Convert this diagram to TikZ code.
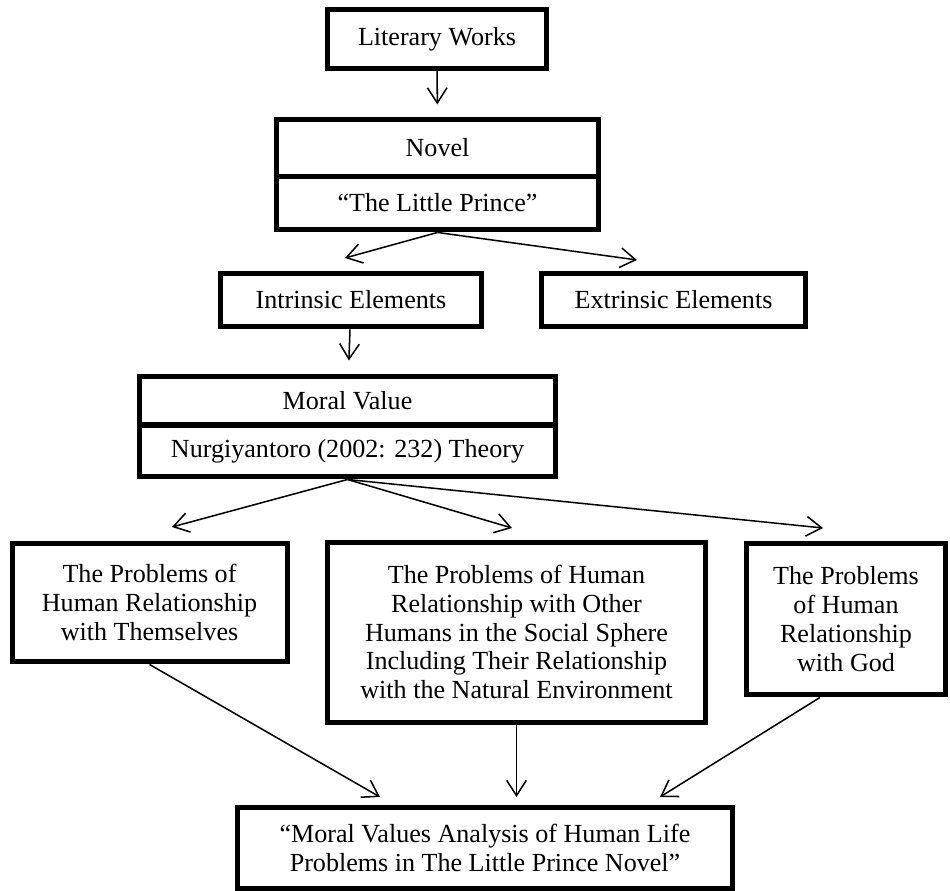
\documentclass[tikz,border=0pt]{standalone}
\usepackage{fontspec}
\setmainfont{Liberation Serif}
\usetikzlibrary{arrows.meta}
\tikzset{
  box/.style={draw, line width=2.3pt, align=center, inner sep=0pt,
    font=\fontsize{12pt}{13.3pt}\selectfont},
  arr/.style={-{Straight Barb[length=7pt,width=9pt]}, line width=0.7pt}
}
\begin{document}
\begin{tikzpicture}[x=0.46pt, y=-0.46pt]
  \useasboundingbox (0,0) rectangle (950,891);

  % Top chain
  \node[box, minimum width=100.3pt, minimum height=26.7pt] (works) at (437,39) {Literary Works};
  \node[box, minimum width=147.7pt, minimum height=25.8pt] (novel) at (437.5,148) {Novel};
  \node[box, minimum width=147.7pt, minimum height=24.8pt] (prince) at (437.5,203) {“The Little Prince”};
  \node[box, minimum width=120.5pt, minimum height=24.8pt] (intr) at (351,300) {Intrinsic Elements};
  \node[box, minimum width=121pt, minimum height=24.8pt] (extr) at (673.5,300) {Extrinsic Elements};

  % Theory
  \node[box, minimum width=191.8pt, minimum height=22.5pt] (moral) at (347.5,400.5) {Moral Value};
  \node[box, minimum width=191.8pt, minimum height=23.9pt] (nurg) at (347.5,451) {Nurgiyantoro (2002: 232) Theory};

  % The three problems
  \node[box, minimum width=126.5pt, minimum height=54.7pt] (self) at (149.5,602.5)
    {The Problems of\\Human Relationship\\with Themselves};
  \node[box, minimum width=174.3pt, minimum height=82.8pt] (others) at (516.5,632)
    {The Problems of Human\\Relationship with Other\\Humans in the Social Sphere\\Including Their Relationship\\with the Natural Environment};
  \node[box, minimum width=91.1pt, minimum height=69.9pt] (god) at (846,619)
    {The Problems\\of Human\\Relationship\\with God};

  % Result
  \node[box, minimum width=228pt, minimum height=37.7pt] (final) at (485,848)
    {“Moral Values Analysis of Human Life\\Problems in The Little Prince Novel”};

  % Arrow tips that stop short of the boxes
  \coordinate (tipI) at (345,258);
  \coordinate (tipE) at (637,260);
  \coordinate (tipS) at (172,527);
  \coordinate (tipO) at (512,528);
  \coordinate (tipG) at (823,528);
  \coordinate (inS) at (380,797);
  \coordinate (inO) at (516.5,797);
  \coordinate (inG) at (660,797);

  % Connectors
  \draw[arr, shorten >=6pt] (works) -- (novel);
  \draw[arr] (prince.south) -- (tipI);
  \draw[arr] (prince.south) -- (tipE);
  \draw[arr, shorten >=6pt] (intr) -- (moral);
  \draw[arr] (nurg.south) -- (tipS);
  \draw[arr] (nurg.south) -- (tipO);
  \draw[arr] (nurg.south) -- (tipG);
  \draw[arr] (self.south) -- (inS);
  \draw[arr] (others.south) -- (inO);
  \draw[arr] ([xshift=-12pt]god.south) -- (inG);
\end{tikzpicture}
\end{document}
